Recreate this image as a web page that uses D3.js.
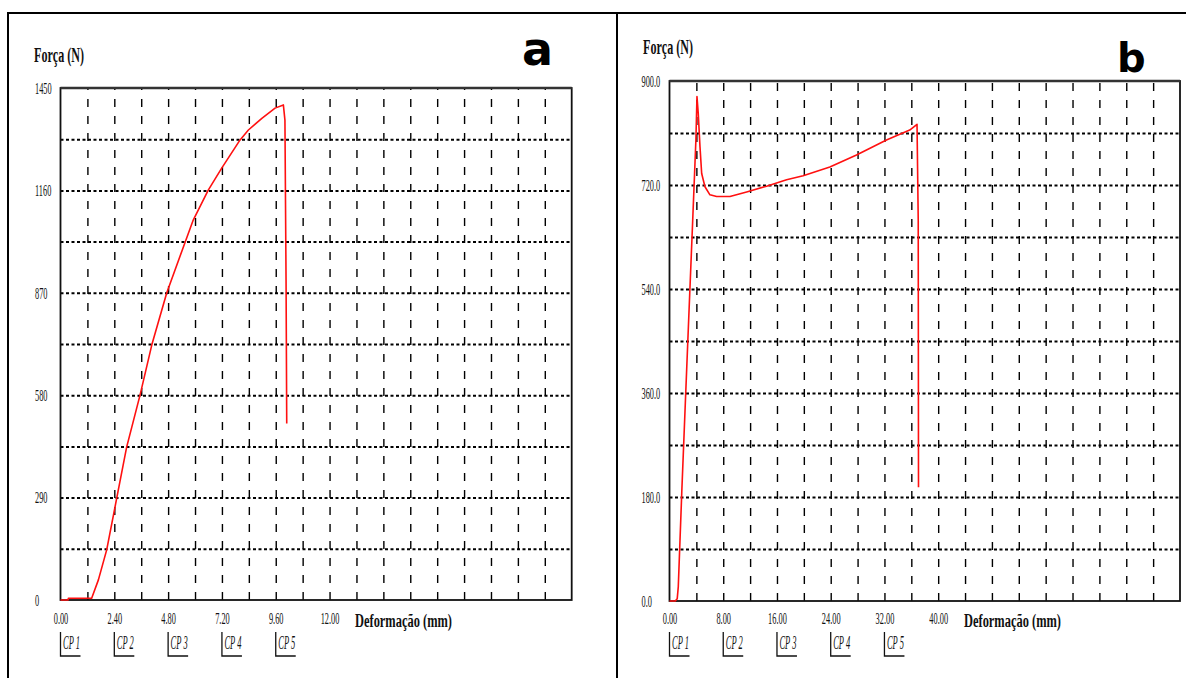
<!DOCTYPE html>
<html>
<head>
    <script src="https://d3js.org/d3.v7.min.js"></script>
    <style>
        body { margin: 0; background: #fff; }
        text { font-family: "Liberation Serif", serif; fill: #111; }
    </style>
</head>
<body>
    <div id="chart"></div>

    <script>
        // Test a: deformation (mm) and force (N)
        const deformA = [0, 0.34, 0.35, 1.39, 1.69, 2.06, 2.51, 2.95, 3.55, 4.07, 4.74, 5.55, 5.92, 6.59, 7.19, 8.01, 8.38, 8.98, 9.57, 9.94, 10.01, 10.06, 10.09];
        const forceA = [0, 0, 5, 5, 57, 142, 289, 433, 581, 722, 870, 1012, 1076, 1161, 1223, 1303, 1331, 1364, 1393, 1402, 1359, 906, 500];

        // Test b
        const deformB = [0, 0.85, 1.15, 1.31, 1.83, 2.35, 2.88, 3.41, 3.93, 4.09, 4.28, 4.54, 4.79, 5.28, 6.02, 7.02, 9.0, 11.48, 14.45, 17.43, 19.9, 23.87, 27.84, 32.3, 35.76, 36.85, 37.03, 37.07];
        const forceB = [0, 0, 4, 25, 189, 341, 494, 646, 798, 873, 844, 786, 740, 717, 703, 700, 700, 708, 718, 729, 736, 751, 772, 798, 815, 825, 659, 197];

        // tick labels
        const yTicksA = [0, 290, 580, 870, 1160, 1450];
        const xTicksA = [0, 2.4, 4.8, 7.2, 9.6, 12];
        const yTicksB = [0, 180, 360, 540, 720, 900];
        const xTicksB = [0, 8, 16, 24, 32, 40];
        const cpLabels = ["CP 1", "CP 2", "CP 3", "CP 4", "CP 5"];

        const svg = d3.select("#chart").append("svg")
            .attr("width", 1186)
            .attr("height", 678);

        // outer frame
        svg.append("path")
            .attr("d", "M8,678V13H1186M617,13V678")
            .attr("fill", "none")
            .attr("stroke", "#000")
            .attr("stroke-width", 2);

        function panel(p) {
            const x = d3.scaleLinear().domain([0, p.xMax]).range([p.left, p.right]);
            const y = d3.scaleLinear().domain([0, p.yMax]).range([p.bottom, p.top]);
            const h = p.bottom - p.top, w = p.right - p.left;

            // vertical dashed grid
            svg.append("g")
                .attr("transform", `translate(0,${p.bottom})`)
                .call(d3.axisBottom(x).tickValues(d3.range(1, 19).map(i => i * p.xStep)).tickSize(-h).tickFormat(""))
                .call(g => g.select(".domain").remove())
                .selectAll("line")
                .attr("stroke", "#000")
                .attr("stroke-width", 1.4)
                .attr("stroke-dasharray", "8,9");

            // horizontal dotted grid
            svg.append("g")
                .attr("transform", `translate(${p.left},0)`)
                .call(d3.axisLeft(y).tickValues(d3.range(1, 10).map(i => i * p.yMax / 10)).tickSize(-w).tickFormat(""))
                .call(g => g.select(".domain").remove())
                .selectAll("line")
                .attr("stroke", "#000")
                .attr("stroke-width", 2)
                .attr("stroke-dasharray", "3,2.5");

            // plot frame
            svg.append("rect")
                .attr("x", p.left).attr("y", p.top)
                .attr("width", w).attr("height", h)
                .attr("fill", "none")
                .attr("stroke", "#111")
                .attr("stroke-width", 1.8);
            svg.append("line")
                .attr("x1", p.left).attr("x2", p.right)
                .attr("y1", p.top).attr("y2", p.top)
                .attr("stroke", "#333").attr("stroke-width", 2.6);

            // y tick labels
            svg.append("g")
                .attr("transform", `translate(${p.left},0)`)
                .call(d3.axisLeft(y).tickValues(p.yTicks).tickSize(0).tickFormat(p.yFmt))
                .call(g => g.select(".domain").remove())
                .selectAll(".tick text")
                .attr("x", 0)
                .attr("dy", "0.33em")
                .attr("text-anchor", "start")
                .attr("font-family", "Liberation Serif")
                .attr("font-size", 16)
                .attr("fill", "#111")
                .attr("transform", `translate(${p.labelLeft - p.left},0) scale(0.52,1)`);

            // x tick labels
            svg.append("g")
                .attr("transform", `translate(0,${p.bottom})`)
                .call(d3.axisBottom(x).tickValues(p.xTicks).tickSize(0).tickFormat(d3.format(".2f")))
                .call(g => g.select(".domain").remove())
                .selectAll(".tick text")
                .attr("y", 624 - p.bottom)
                .attr("dy", 0)
                .attr("font-family", "Liberation Serif")
                .attr("font-size", 16)
                .attr("fill", "#111")
                .attr("transform", "scale(0.52,1)");

            // CP markers under the first five x ticks
            const cp = svg.append("g").selectAll("g")
                .data(cpLabels)
                .join("g")
                .attr("transform", (d, i) => `translate(${x(p.xTicks[i])},0)`);
            cp.append("path")
                .attr("d", "M0,632V656H20")
                .attr("fill", "none")
                .attr("stroke", "#111")
                .attr("stroke-width", 1.3);
            cp.append("text")
                .attr("x", 2.5).attr("y", 649)
                .attr("font-size", 19)
                .attr("font-style", "italic")
                .attr("textLength", 17)
                .attr("lengthAdjust", "spacingAndGlyphs")
                .text(d => d);

            // titles
            svg.append("text")
                .attr("x", p.titleX).attr("y", p.titleY)
                .attr("font-size", 20)
                .attr("font-weight", "bold")
                .attr("textLength", 50)
                .attr("lengthAdjust", "spacingAndGlyphs")
                .text("Força (N)");
            svg.append("text")
                .attr("x", p.xLabelX).attr("y", 627)
                .attr("font-size", 18)
                .attr("font-weight", "bold")
                .attr("textLength", 97)
                .attr("lengthAdjust", "spacingAndGlyphs")
                .text("Deformação (mm)");
            svg.append("text")
                .attr("x", p.letterX).attr("y", p.letterY)
                .attr("font-size", p.letterSize)
                .attr("font-weight", "bold")
                .style("font-family", "DejaVu Sans")
                .style("fill", "#000")
                .text(p.letter);

            // force curve
            const line = d3.line()
                .x((d, i) => x(p.deform[i]))
                .y(d => y(d));
            svg.append("path")
                .datum(p.force)
                .attr("d", line)
                .attr("fill", "none")
                .attr("stroke", "#ff1010")
                .attr("stroke-width", 1.6)
                .attr("stroke-linejoin", "round");
        }

        panel({
            left: 60.5, right: 571.7, top: 88, bottom: 600,
            xMax: 22.8, xStep: 1.2, yMax: 1450,
            xTicks: xTicksA, yTicks: yTicksA, yFmt: d3.format("d"),
            labelLeft: 35, titleX: 34, titleY: 62, xLabelX: 355,
            letter: "a", letterX: 522, letterY: 65, letterSize: 46,
            deform: deformA, force: forceA
        });

        panel({
            left: 669.5, right: 1180, top: 81, bottom: 601,
            xMax: 76, xStep: 4, yMax: 900,
            xTicks: xTicksB, yTicks: yTicksB, yFmt: d3.format(".1f"),
            labelLeft: 641.5, titleX: 643, titleY: 54, xLabelX: 964,
            letter: "b", letterX: 1117, letterY: 72, letterSize: 40,
            deform: deformB, force: forceB
        });
    </script>
</body>
</html>
